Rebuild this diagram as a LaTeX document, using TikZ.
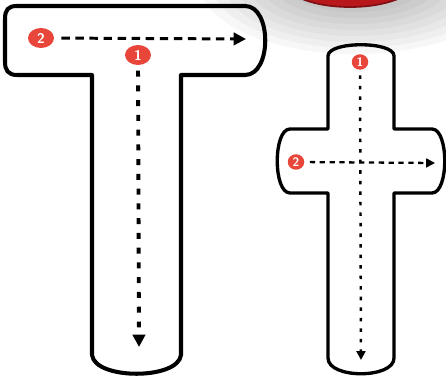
\documentclass[tikz,border=0pt]{standalone}
\usetikzlibrary{arrows.meta, shapes.geometric}
\definecolor{markred}{HTML}{E8463A}
\definecolor{ballred}{HTML}{B8171C}

\begin{document}
\begin{tikzpicture}[
    x=0.02cm, y=-0.02cm,
    bigline/.style={line width=2.3pt, line join=round},
    smallline/.style={line width=1.9pt, line join=round},
    marker/.style={ellipse, fill=markred, text=white, inner sep=0pt,
                   font=\sffamily\bfseries\footnotesize},
    bigmark/.style={marker, minimum width=0.52cm, minimum height=0.4cm},
    smallmark/.style={marker, minimum width=0.33cm, minimum height=0.31cm,
                      font=\sffamily\bfseries\scriptsize},
    across/.style={line width=1.7pt, dash pattern=on 4.8pt off 3.2pt,
                   -{Triangle[length=7pt, width=7pt]}, shorten <=4pt},
    down/.style={line width=2.2pt, dash pattern=on 3.4pt off 5pt,
                 -{Triangle[length=7pt, width=7pt]}, shorten <=3pt},
    thinacross/.style={line width=1.3pt, dash pattern=on 3pt off 2.6pt,
                       -{Triangle[length=5pt, width=5pt]}, shorten <=3pt},
    thindown/.style={line width=1.4pt, dash pattern=on 2pt off 4pt,
                     -{Triangle[length=5pt, width=5pt]}, shorten <=3pt}
  ]
  \clip (0,0) rectangle (446,377);
  \useasboundingbox (0,0) rectangle (446,377);

  % shadow and red button at the top
  \foreach \r in {1,...,8}
    \fill[black, opacity=0.03] (355,-18) ellipse ({60+12*\r} and {24+6*\r});
  \fill[ballred, draw=ballred!70!black, line width=1pt] (350,-18) ellipse (65 and 25);

  % letter T
  \draw[bigline] (17,6) -- (245,6) .. controls (272,6) and (272,75) .. (245,75)
    -- (181,75) -- (181,355) .. controls (178,380) and (95,380) .. (92,355)
    -- (92,75) -- (17,75) .. controls (8,75) and (5,70) .. (5,62)
    -- (5,19) .. controls (5,10) and (8,6) .. (17,6) -- cycle;

  % letter t
  \draw[smallline] (328,56) .. controls (328,41) and (394,41) .. (394,56)
    -- (394,129) -- (432,129) .. controls (449,129) and (449,193) .. (432,193)
    -- (394,193) -- (394,358) .. controls (394,379) and (328,379) .. (328,358)
    -- (328,193) -- (290,193) .. controls (273,193) and (273,129) .. (290,129)
    -- (328,129) -- cycle;

  \node[bigmark] (ttwo) at (41,38) {2};
  \node[bigmark] (tone) at (138,55) {1};
  \node[smallmark] (cone) at (360,62) {1};
  \node[smallmark] (ctwo) at (296,162) {2};

  \coordinate (tacrossend) at (246,39);
  \coordinate (tdownend) at (139,347);
  \coordinate (cacrossend) at (435,163);
  \coordinate (cdownend) at (361,360);

  \draw[across] (ttwo) -- (tacrossend);
  \draw[down] (tone) -- (tdownend);
  \draw[thinacross] (ctwo) -- (cacrossend);
  \draw[thindown] (cone) -- (cdownend);
\end{tikzpicture}
\end{document}
